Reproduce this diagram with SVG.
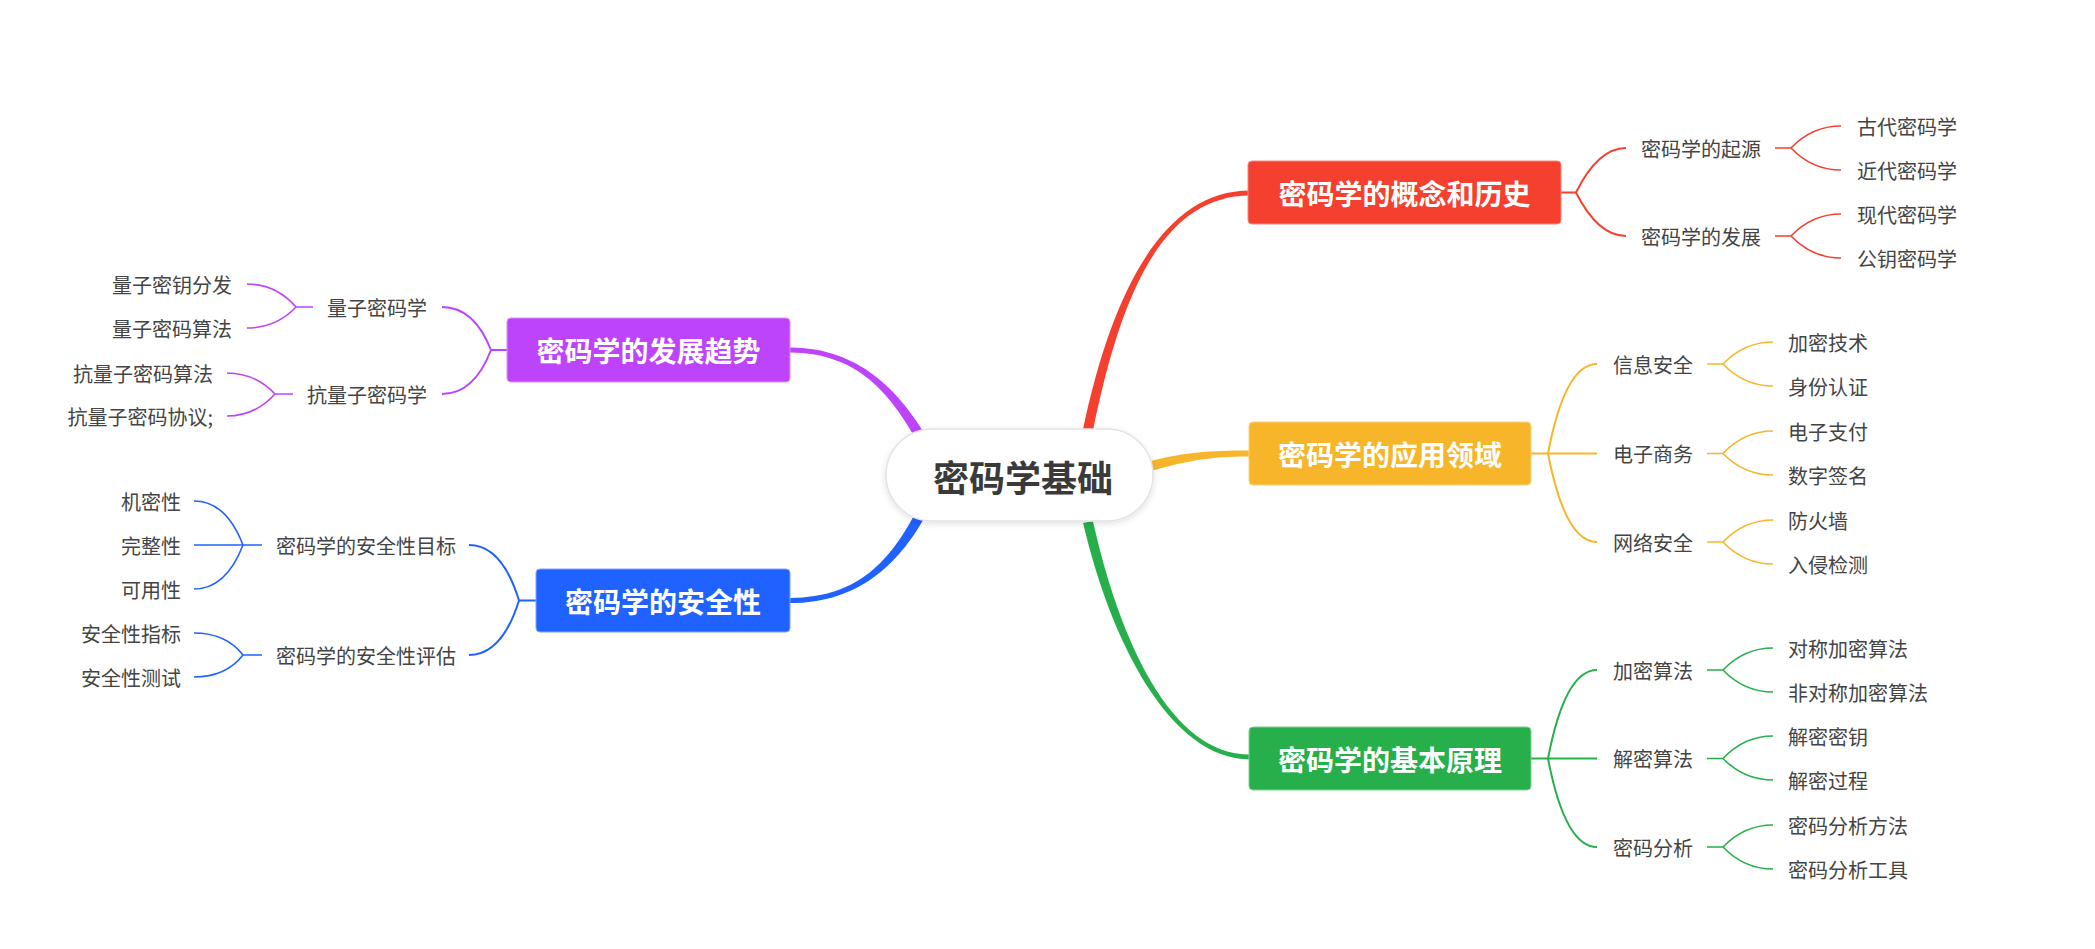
<svg xmlns="http://www.w3.org/2000/svg" width="2095" height="949" viewBox="0 0 2095 949">
<defs>
<filter id="sh" x="-20%" y="-30%" width="140%" height="160%">
<feDropShadow dx="0" dy="2" stdDeviation="3" flood-color="#000" flood-opacity="0.12"/>
</filter>
</defs>
<style>
text { font-family: "Noto Sans CJK SC", "Noto Sans", sans-serif; dominant-baseline: central; }
.s { font-size: 20px; fill: #444; }
.e { text-anchor: end; }
.m { font-size: 28px; font-weight: bold; fill: #fff; text-anchor: middle; }
.c { font-size: 36px; font-weight: bold; fill: #3a3a3a; text-anchor: middle; }
.l2 { fill: none; stroke-width: 2; }
.l3 { fill: none; stroke-width: 1.6; }
.red { stroke: #F5402F; }
.yel { stroke: #F7B52A; }
.grn { stroke: #26AF4B; }
.blu { stroke: #1F62FF; }
.pur { stroke: #BD44FA; }
</style>
<rect width="2095" height="949" fill="#fff"/>
<g id="connectors">
<path fill="#F5402F" d="M1092.9,431 C1119.4,300.9 1160,195.5 1250,195.5 L1250,190.5 C1160,190.5 1110.6,299.1 1083.1,429 Z"/>
<path fill="#F7B52A" d="M1141.4,473.8 C1186.2,460.3 1210,456.5 1249,456.5 L1249,450.5 C1210,450.5 1183.8,451.7 1138.6,464.2 Z"/>
<path fill="#26AF4B" d="M1083.1,523.1 C1110.6,641 1170,759.5 1250,759.5 L1250,754.5 C1170,754.5 1119.4,639 1092.9,520.9 Z"/>
<path fill="#BD44FA" d="M923.3,431.4 C898.8,392.6 860,347.5 790,347.5 L790,352.5 C860,352.5 891.2,397.4 914.7,436.6 Z"/>
<path fill="#1F62FF" d="M914.6,514.6 C891.1,557.8 860,598 790,598 L790,603 C860,603 898.9,562.2 923.4,519.4 Z"/>

<g class="l2 red">
<path d="M1561,192.5 H1576 Q1598,148 1626,148"/>
<path d="M1576,192.5 Q1598,236 1626,236"/>
</g>
<g class="l3 red">
<path d="M1775,148 H1791 Q1812,126 1841,126"/>
<path d="M1791,148 Q1812,170 1841,170"/>
<path d="M1775,236 H1791 Q1812,214 1841,214"/>
<path d="M1791,236 Q1812,258 1841,258"/>
</g>

<g class="l2 yel">
<path d="M1531,453.5 H1597"/>
<path d="M1548,453.5 Q1565,364 1597,364"/>
<path d="M1548,453.5 Q1565,542 1597,542"/>
</g>
<g class="l3 yel">
<path d="M1707,364 H1723 Q1744,342 1773,342"/>
<path d="M1723,364 Q1744,386 1773,386"/>
<path d="M1707,453.5 H1723 Q1744,431 1773,431"/>
<path d="M1723,453.5 Q1744,475 1773,475"/>
<path d="M1707,542 H1723 Q1744,520 1773,520"/>
<path d="M1723,542 Q1744,564 1773,564"/>
</g>

<g class="l2 grn">
<path d="M1531,758.5 H1597"/>
<path d="M1548,758.5 Q1565,670 1597,670"/>
<path d="M1548,758.5 Q1565,847 1597,847"/>
</g>
<g class="l3 grn">
<path d="M1707,670 H1723 Q1744,648 1773,648"/>
<path d="M1723,670 Q1744,692 1773,692"/>
<path d="M1707,758.5 H1723 Q1744,736 1773,736"/>
<path d="M1723,758.5 Q1744,780 1773,780"/>
<path d="M1707,847 H1723 Q1744,825 1773,825"/>
<path d="M1723,847 Q1744,869 1773,869"/>
</g>

<g class="l2 pur">
<path d="M507,350 H491 Q474,307 442,307"/>
<path d="M491,350 Q474,394 442,394"/>
</g>
<g class="l3 pur">
<path d="M313,307 H296 Q276,284 247,284"/>
<path d="M296,307 Q276,328 247,328"/>
<path d="M293,394 H275 Q255,373 227,373"/>
<path d="M275,394 Q255,416 227,416"/>
</g>

<g class="l2 blu">
<path d="M536,600.5 H519 Q502,545 469,545"/>
<path d="M519,600.5 Q502,655 469,655"/>
</g>
<g class="l3 blu">
<path d="M262,545 H194"/>
<path d="M243,545 Q226,501 194,501"/>
<path d="M243,545 Q226,589 194,589"/>
<path d="M262,655 H243 Q226,633 194,633"/>
<path d="M243,655 Q226,677 194,677"/>
</g>
</g>

<g id="center">
<rect x="886" y="429" width="267" height="92" rx="46" fill="#fff" stroke="#e3e3e3" stroke-width="1.5" filter="url(#sh)"/>
<text class="c" x="1023" y="476">密码学基础</text>
</g>

<g id="n-history">
<rect x="1248" y="161" width="313" height="63" rx="4" fill="#F5402F" stroke="#f8867c" stroke-width="1"/>
<text class="m" x="1404.5" y="192.5">密码学的概念和历史</text>
</g>
<g id="n-origin"><text class="s" x="1641" y="148">密码学的起源</text></g>
<g id="n-develop"><text class="s" x="1641" y="236">密码学的发展</text></g>
<g id="n-ancient"><text class="s" x="1857" y="126">古代密码学</text></g>
<g id="n-nearmodern"><text class="s" x="1857" y="170">近代密码学</text></g>
<g id="n-modern"><text class="s" x="1857" y="214">现代密码学</text></g>
<g id="n-pubkey"><text class="s" x="1857" y="258">公钥密码学</text></g>

<g id="n-application">
<rect x="1249" y="422" width="282" height="63" rx="4" fill="#F7B52A" stroke="#fbd27d" stroke-width="1"/>
<text class="m" x="1390" y="453.5">密码学的应用领域</text>
</g>
<g id="n-infosec"><text class="s" x="1613" y="364">信息安全</text></g>
<g id="n-ecommerce"><text class="s" x="1613" y="453.5">电子商务</text></g>
<g id="n-netsec"><text class="s" x="1613" y="542">网络安全</text></g>
<g id="n-enctech"><text class="s" x="1788" y="342">加密技术</text></g>
<g id="n-auth"><text class="s" x="1788" y="386">身份认证</text></g>
<g id="n-epay"><text class="s" x="1788" y="431">电子支付</text></g>
<g id="n-sign"><text class="s" x="1788" y="475">数字签名</text></g>
<g id="n-firewall"><text class="s" x="1788" y="520">防火墙</text></g>
<g id="n-ids"><text class="s" x="1788" y="564">入侵检测</text></g>

<g id="n-principle">
<rect x="1249" y="727" width="282" height="63" rx="4" fill="#26AF4B" stroke="#7fd196" stroke-width="1"/>
<text class="m" x="1390" y="758.5">密码学的基本原理</text>
</g>
<g id="n-encalg"><text class="s" x="1613" y="670">加密算法</text></g>
<g id="n-decalg"><text class="s" x="1613" y="758.5">解密算法</text></g>
<g id="n-analysis"><text class="s" x="1613" y="847">密码分析</text></g>
<g id="n-sym"><text class="s" x="1788" y="648">对称加密算法</text></g>
<g id="n-asym"><text class="s" x="1788" y="692">非对称加密算法</text></g>
<g id="n-deckey"><text class="s" x="1788" y="736">解密密钥</text></g>
<g id="n-decproc"><text class="s" x="1788" y="780">解密过程</text></g>
<g id="n-anamethod"><text class="s" x="1788" y="825">密码分析方法</text></g>
<g id="n-anatool"><text class="s" x="1788" y="869">密码分析工具</text></g>

<g id="n-trend">
<rect x="507" y="318" width="283" height="64" rx="4" fill="#BD44FA" stroke="#d68ffc" stroke-width="1"/>
<text class="m" x="648.5" y="350">密码学的发展趋势</text>
</g>
<g id="n-quantum"><text class="s e" x="427" y="307">量子密码学</text></g>
<g id="n-postquantum"><text class="s e" x="427" y="394">抗量子密码学</text></g>
<g id="n-qkd"><text class="s e" x="232" y="284">量子密钥分发</text></g>
<g id="n-qalg"><text class="s e" x="232" y="328">量子密码算法</text></g>
<g id="n-pqalg"><text class="s e" x="213" y="373">抗量子密码算法</text></g>
<g id="n-pqproto"><text class="s e" x="213" y="416">抗量子密码协议;</text></g>

<g id="n-security">
<rect x="536" y="569" width="254" height="63" rx="4" fill="#1F62FF" stroke="#7fa5ff" stroke-width="1"/>
<text class="m" x="663" y="600.5">密码学的安全性</text>
</g>
<g id="n-goal"><text class="s e" x="456" y="545">密码学的安全性目标</text></g>
<g id="n-eval"><text class="s e" x="456" y="655">密码学的安全性评估</text></g>
<g id="n-conf"><text class="s e" x="181" y="501">机密性</text></g>
<g id="n-integ"><text class="s e" x="181" y="545">完整性</text></g>
<g id="n-avail"><text class="s e" x="181" y="589">可用性</text></g>
<g id="n-metric"><text class="s e" x="181" y="633">安全性指标</text></g>
<g id="n-test"><text class="s e" x="181" y="677">安全性测试</text></g>
</svg>
